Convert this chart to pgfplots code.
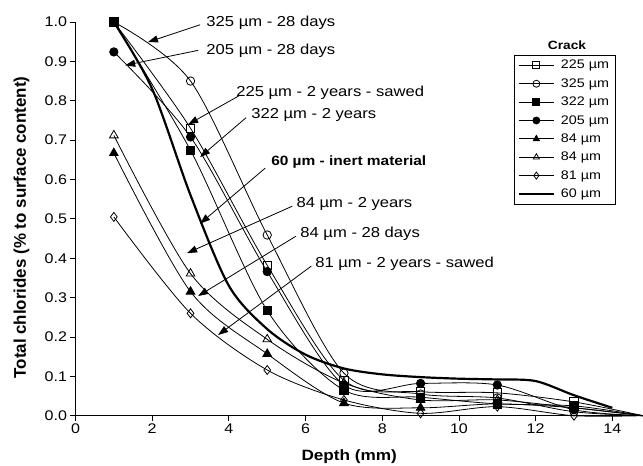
\documentclass[border=0pt]{standalone}
\usepackage{fontspec}
\setmainfont[FakeStretch=1.15]{Liberation Sans}
\newfontfamily\plainfont{Liberation Sans}
\usepackage{pgfplots}
\pgfplotsset{compat=1.18}
\usetikzlibrary{arrows.meta}

% chloride profiles, depth in mm
\pgfplotstableread{
x y
1 1.0
3 0.73
5 0.382
7 0.09
9 0.061
11 0.058
13 0.035
14.8 0
}\sqopen
\pgfplotstableread{
x y
1 1.0
3 0.85
5 0.459
7 0.108
9 0.055
11 0.045
13 0.01
14.8 0
}\ciopen
\pgfplotstableread{
x y
1 1.0
3 0.674
5 0.267
7 0.065
9 0.047
11 0.03
13 0.025
14.8 0
}\sqfill
\pgfplotstableread{
x y
1 0.924
3 0.708
5 0.366
7 0.078
9 0.082
11 0.078
13 0.015
14.8 0
}\cifill
\pgfplotstableread{
x y
1 0.667
3 0.315
5 0.157
7 0.032
9 0.02
11 0.03
13 0.02
14.8 0
}\trfill
\pgfplotstableread{
x y
1 0.712
3 0.361
5 0.194
7 0.083
9 0.04
11 0.04
13 0.02
14.8 0
}\tropen
\pgfplotstableread{
x y
1 0.505
3 0.26
5 0.116
7 0.04
9 0.006
11 0.023
13 0.0
14.8 0
}\diam
\pgfplotstableread{
x y
1 1.0
2 0.83
3 0.56
4 0.33
5 0.22
6 0.155
7 0.12
8 0.105
9 0.098
10 0.094
11 0.092
12 0.088
13 0.052
14 0.02
}\inert

\begin{document}
\begin{tikzpicture}[
  crv/.style={black, line width=0.8pt, smooth, tension=0.5, mark indices={1,...,7},
    mark options={solid, line width=0.7pt}},
  arr/.style={line width=0.8pt, -{Triangle[length=10bp,width=7bp]}},
  lab/.style={anchor=west, inner sep=0pt, font=\fontsize{14.5}{16}\selectfont},
]
\begin{axis}[
  name=ax,
  scale only axis,
  width=567.5bp, height=393.7bp,
  xmin=0, xmax=14.8, ymin=0, ymax=1.0,
  clip=false,
  axis x line=bottom, axis y line=left,
  x axis line style={-}, y axis line style={-},
  xtick={0,2,...,14},
  ytick={0,0.1,...,1.0},
  tick align=outside,
  major tick length=5bp,
  tick style={black, line width=0.8pt},
  axis line style={line width=0.9pt},
  ticklabel style={font=\fontsize{14}{16}\selectfont},
  /pgf/number format/assume math mode=true,
  y tick label style={/pgf/number format/.cd, fixed, fixed zerofill, precision=1},
  xlabel={\textbf{Depth (mm)}},
  ylabel={\textbf{Total chlorides (\% to surface content)}},
  every axis x label/.style={at={(rel axis cs:0.5,0)}, anchor=center, yshift=-41bp, xshift=-10bp,
    font=\fontsize{15}{17}\selectfont},
  every axis y label/.style={at={(axis description cs:-0.095,0.478)}, rotate=90, anchor=center,
    font=\plainfont\fontsize{17}{19}\selectfont},
  legend style={at={(rel axis cs:0.951,0.916)}, anchor=north east,
    font=\fontsize{12.5}{13}\selectfont, draw=black,
    row sep=4.2bp, inner xsep=4bp, inner ysep=3bp,
    /tikz/every odd column/.append style={column sep=4bp}},
  legend cell align=left,
  legend image code/.code={%
    \draw[#1, mark indices={2}, mark size=3.5bp] plot coordinates {(0bp,0bp) (17.5bp,0bp) (35bp,0bp)};},
]
\addplot[crv, mark=square, mark size=4.2bp, mark options={fill=white}] table {\sqopen};
\addlegendentry{225 µm}
\addplot[crv, mark=o, mark size=4.2bp, mark options={fill=white}] table {\ciopen};
\addlegendentry{325 µm}
\addplot[crv, mark=square*, mark size=4.2bp, mark options={fill=black}] table {\sqfill};
\addlegendentry{322 µm}
\addplot[crv, mark=*, mark size=4.2bp, mark options={fill=black}] table {\cifill};
\addlegendentry{205 µm}
\addplot[crv, mark=triangle*, mark size=5bp, mark options={fill=black}] table {\trfill};
\addlegendentry{84 µm}
\addplot[crv, mark=triangle, mark size=5bp, mark options={fill=white}] table {\tropen};
\addlegendentry{84 µm}
\addplot[crv, mark=diamond, mark size=4.5bp, mark options={fill=white}] table {\diam};
\addlegendentry{81 µm}
\addplot[black, smooth, tension=0.5, no marks, line width=2.2pt] table {\inert};
\addlegendentry{60 µm}

\node[font=\bfseries\fontsize{12}{13}\selectfont] at (rel axis cs:0.866,0.942) {Crack};

\draw[arr] (axis cs:3.25,0.993) -- (axis cs:1.89,0.949);
\node[lab] at (axis cs:3.41,0.999) {325 µm - 28 days};
\draw[arr] (axis cs:3.2,0.928) -- (axis cs:1.295,0.890);
\node[lab] at (axis cs:3.41,0.926) {205 µm - 28 days};
\draw[arr] (axis cs:4.29,0.814) -- (axis cs:2.94,0.74);
\node[lab] at (axis cs:4.19,0.819) {225 µm - 2 years - sawed};
\draw[arr] (axis cs:4.45,0.757) -- (axis cs:3.25,0.657);
\node[lab] at (axis cs:4.58,0.763) {322 µm - 2 years};
\draw[arr] (axis cs:4.95,0.629) -- (axis cs:3.25,0.488);
\node[lab, font=\bfseries\fontsize{13.5}{15}\selectfont] at (axis cs:5.1,0.644) {60 µm - inert material};
\draw[arr] (axis cs:5.65,0.532) -- (axis cs:2.91,0.413);
\node[lab] at (axis cs:5.76,0.537) {84 µm - 2 years};
\draw[arr] (axis cs:5.75,0.456) -- (axis cs:3.2,0.304);
\node[lab] at (axis cs:5.86,0.463) {84 µm - 28 days};
\draw[arr] (axis cs:6.15,0.380) -- (axis cs:3.72,0.205);
\node[lab] at (axis cs:6.25,0.387) {81 µm - 2 years - sawed};
\end{axis}
\pgfresetboundingbox
\path (-75.5bp,-50.3bp) rectangle (567.5bp,415.7bp);
\end{tikzpicture}
\end{document}
